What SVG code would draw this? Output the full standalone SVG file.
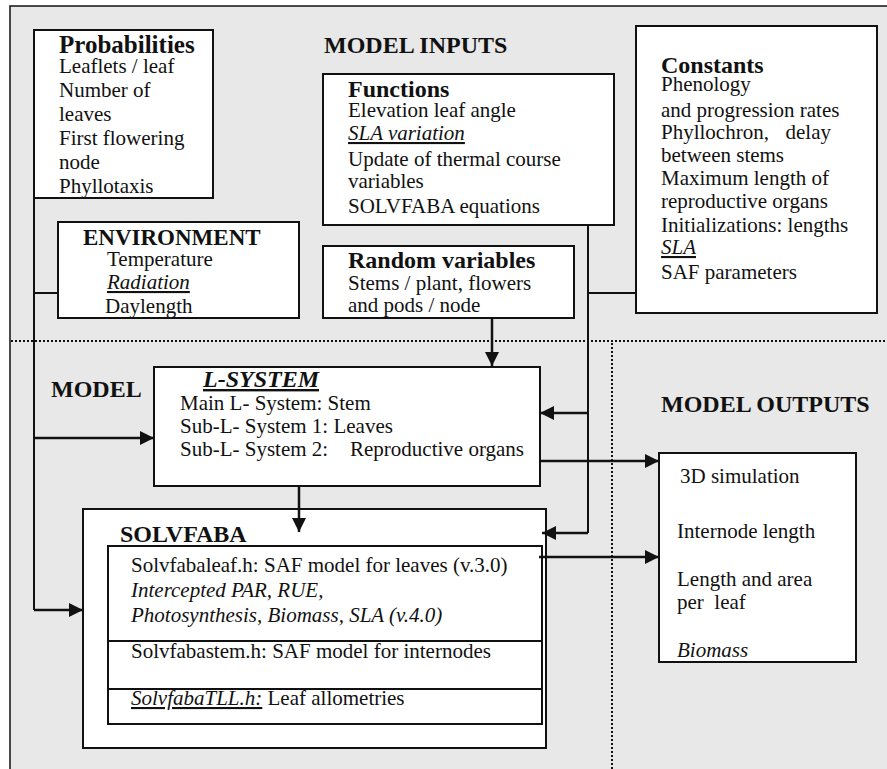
<svg xmlns="http://www.w3.org/2000/svg" width="887" height="769" viewBox="0 0 887 769">
<style>
text{font-family:'Liberation Serif','DejaVu Serif',serif;fill:#111;font-size:21px}
.h{font-weight:bold;font-size:24px}
.i{font-style:italic}
.u{text-decoration:underline}
.box{fill:#fff;stroke:#111;stroke-width:2}
.ln{fill:none;stroke:#111;stroke-width:2}
.ar{fill:none;stroke:#111;stroke-width:2.5;marker-end:url(#ah)}
.dot{fill:none;stroke:#111;stroke-width:2;stroke-dasharray:2 2}
</style>
<defs>
<marker id="ah" markerUnits="userSpaceOnUse" markerWidth="15" markerHeight="15" refX="14" refY="7" orient="auto" viewBox="0 0 15 14">
<path d="M0,0 L14,7 L0,14 z" fill="#111"/>
</marker>
</defs>
<rect x="0" y="0" width="887" height="769" fill="#fff"/>
<rect id="background" x="10" y="6" width="890" height="780" fill="#e8e8e8" stroke="#111" stroke-width="1.5"/>

<g id="regions">
<line class="dot" x1="11" y1="341" x2="887" y2="341"/>
<line class="dot" x1="612" y1="343" x2="612" y2="769"/>
<text class="h" x="324" y="53">MODEL INPUTS</text>
<text class="h" x="51" y="397">MODEL</text>
<text class="h" x="661" y="412">MODEL OUTPUTS</text>
</g>

<g id="probabilities">
<rect class="box" x="34" y="30" width="179" height="168"/>
<text class="h" x="59" y="53" style="font-size:25px">Probabilities</text>
<text x="59" y="73">Leaflets / leaf</text>
<text x="59" y="97">Number of</text>
<text x="59" y="121">leaves</text>
<text x="59" y="145">First flowering</text>
<text x="59" y="169">node</text>
<text x="59" y="193">Phyllotaxis</text>
</g>

<g id="functions">
<rect class="box" x="323" y="74" width="291" height="151"/>
<text class="h" x="348" y="97">Functions</text>
<text x="348" y="117">Elevation leaf angle</text>
<text x="348" y="140" class="i u">SLA variation</text>
<text x="348" y="166">Update of thermal course</text>
<text x="348" y="188">variables</text>
<text x="348" y="213">SOLVFABA equations</text>
</g>

<g id="constants">
<rect class="box" x="636" y="26" width="241" height="287"/>
<text class="h" x="661" y="73">Constants</text>
<text x="661" y="91">Phenology</text>
<text x="661" y="117">and progression rates</text>
<text x="661" y="139">Phyllochron,</text>
<text x="831" y="139" text-anchor="end">delay</text>
<text x="661" y="162">between stems</text>
<text x="661" y="185">Maximum length of</text>
<text x="661" y="208">reproductive organs</text>
<text x="661" y="232">Initializations: lengths</text>
<text x="661" y="254" class="i u">SLA</text>
<text x="661" y="279">SAF parameters</text>
</g>

<g id="environment">
<rect class="box" x="58" y="222" width="241" height="96"/>
<text class="h" x="83" y="245" style="font-size:23px">ENVIRONMENT</text>
<text x="107" y="266">Temperature</text>
<text x="107" y="289" class="i u">Radiation</text>
<text x="105" y="313">Daylength</text>
</g>

<g id="random-variables">
<rect class="box" x="323" y="246" width="251" height="72"/>
<text class="h" x="348" y="268">Random variables</text>
<text x="348" y="290">Stems / plant, flowers</text>
<text x="348" y="312">and pods / node</text>
</g>

<g id="l-system">
<rect class="box" x="154" y="367" width="386" height="119"/>
<text class="h i u" x="203" y="387">L-SYSTEM</text>
<text x="180" y="410">Main L- System: Stem</text>
<text x="180" y="433">Sub-L- System 1: Leaves</text>
<text x="180" y="456">Sub-L- System 2:</text>
<text x="524" y="456" text-anchor="end">Reproductive organs</text>
</g>

<g id="solvfaba">
<rect class="box" x="83" y="509" width="463" height="239"/>
<text class="h" x="120" y="542">SOLVFABA</text>
<rect class="box" x="108" y="546" width="434" height="178"/>
<line class="ln" x1="108" y1="641" x2="542" y2="641"/>
<line class="ln" x1="108" y1="689" x2="542" y2="689"/>
<text x="131" y="572">Solvfabaleaf.h: SAF model for leaves (v.3.0)</text>
<text x="131" y="597" class="i">Intercepted PAR, RUE,</text>
<text x="131" y="622" class="i">Photosynthesis, Biomass, SLA (v.4.0)</text>
<text x="131" y="658">Solvfabastem.h: SAF model for internodes</text>
<text x="131" y="705"><tspan class="i u">SolvfabaTLL.h:</tspan> Leaf allometries</text>
</g>

<g id="outputs">
<rect class="box" x="659" y="453" width="197" height="209"/>
<text x="680" y="483">3D simulation</text>
<text x="677" y="538">Internode length</text>
<text x="677" y="586">Length and area</text>
<text x="677" y="609" xml:space="preserve">per  leaf</text>
<text x="677" y="657" class="i">Biomass</text>
</g>

<g id="connectors">
<polyline class="ln" points="34,198 34,610"/>
<line class="ln" x1="34" y1="293" x2="58" y2="293"/>
<line class="ar" x1="34" y1="438" x2="154" y2="438"/>
<line class="ar" x1="34" y1="610" x2="83" y2="610"/>
<line class="ln" x1="588" y1="224" x2="588" y2="533"/>
<line class="ln" x1="588" y1="293" x2="636" y2="293"/>
<line class="ar" x1="588" y1="413" x2="540" y2="413"/>
<line class="ar" x1="588" y1="533" x2="542" y2="533"/>
<line class="ar" x1="492" y1="318" x2="492" y2="366"/>
<line class="ar" x1="299" y1="486" x2="299" y2="532"/>
<line class="ar" x1="540" y1="461" x2="659" y2="461"/>
<line class="ar" x1="539" y1="557" x2="659" y2="557"/>
</g>
</svg>
